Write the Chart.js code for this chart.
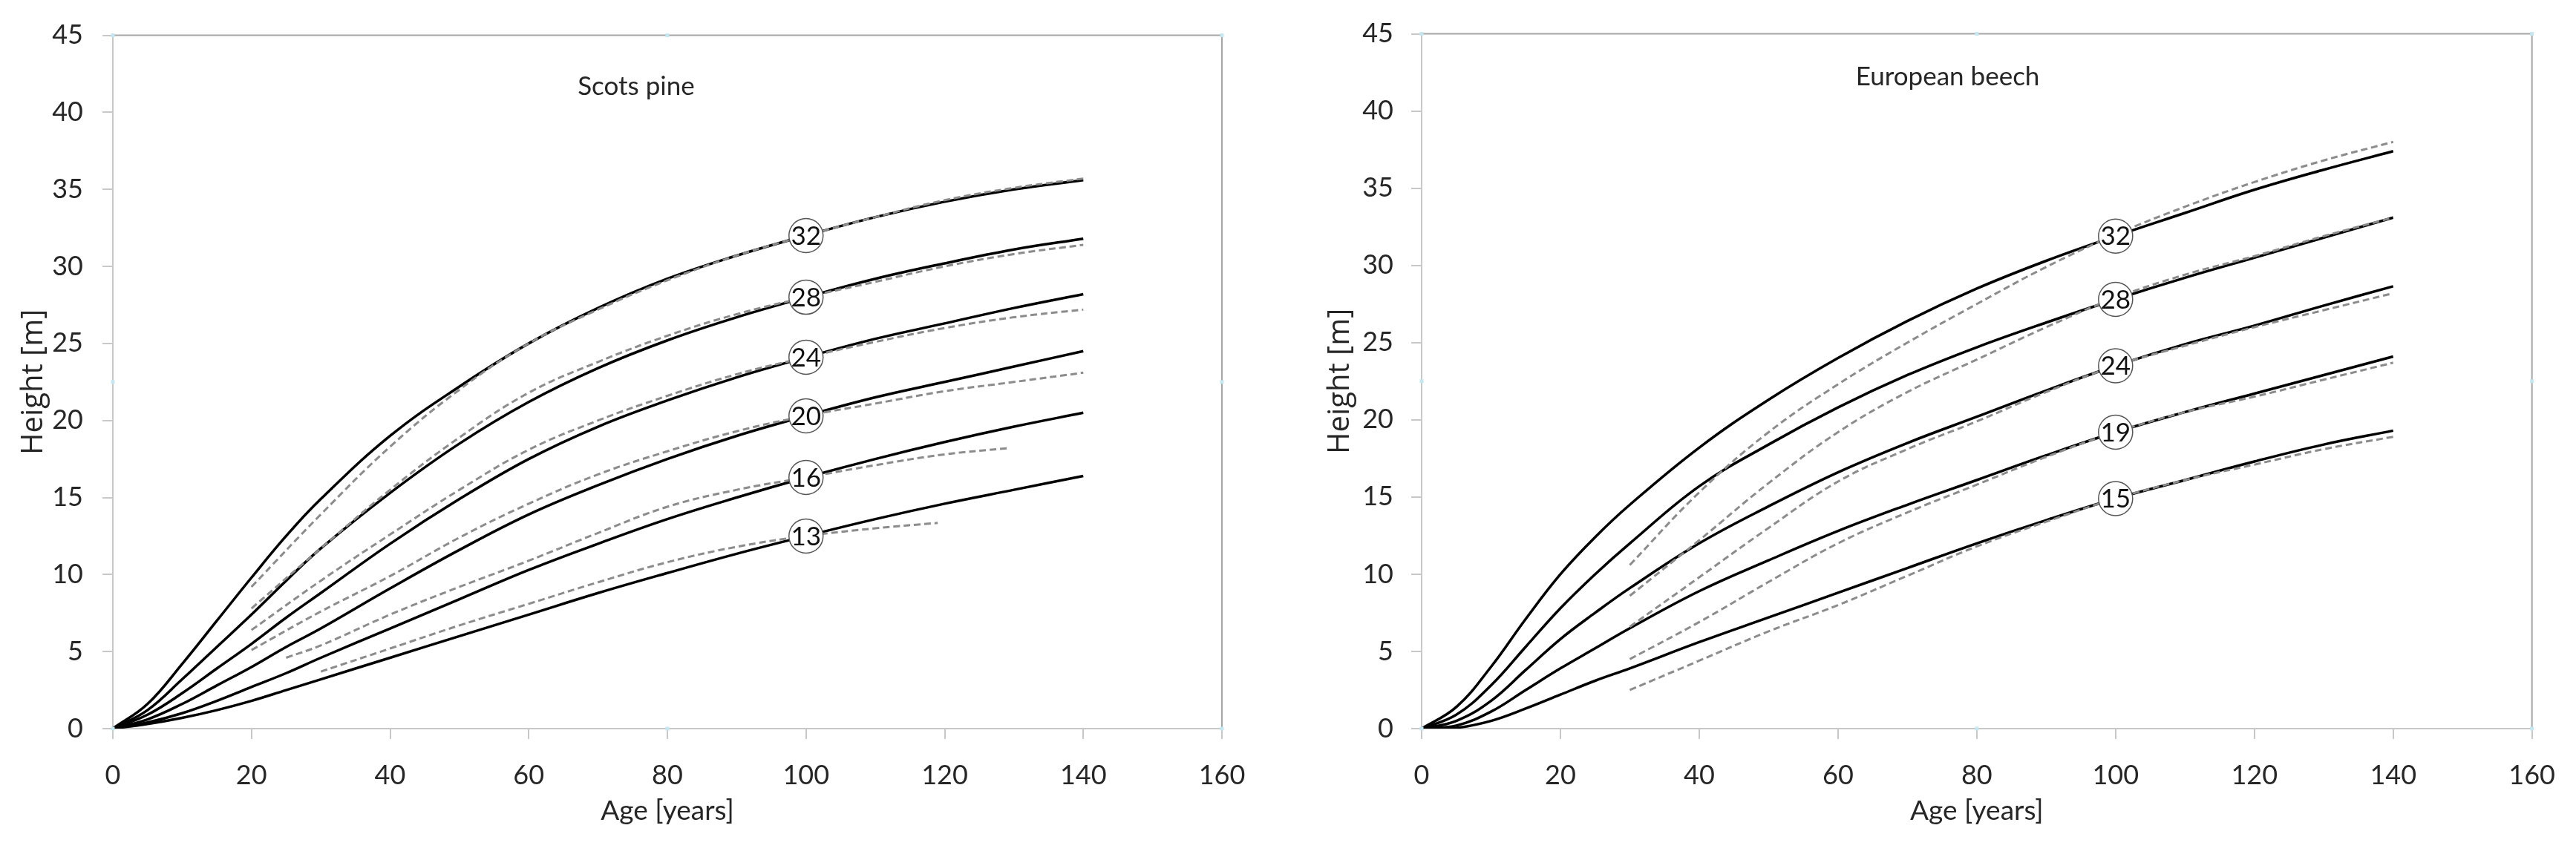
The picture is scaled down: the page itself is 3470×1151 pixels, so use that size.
<!DOCTYPE html>
<html>
<head>
<meta charset="utf-8">
<title>Height growth curves</title>
<script src="https://cdn.jsdelivr.net/npm/chart.js@4.4.1/dist/chart.umd.min.js"></script>
<style>
  html, body { margin: 0; padding: 0; background: #fff; }
  body { width: 3470px; height: 1151px; position: relative; overflow: hidden; }
  canvas { position: absolute; top: 0; }
  #pine { left: 0; }
  #beech { left: 1735px; }
</style>
</head>
<body>
<canvas id="pine" width="1735" height="1151"></canvas>
<canvas id="beech" width="1735" height="1151"></canvas>
<script>
// Ages of the model curves [years]
const AGES = [0, 5, 10, 15, 20, 25, 30, 40, 50, 60, 70, 80, 90, 100, 110, 120, 130, 140];
const X_TICKS = [0, 20, 40, 60, 80, 100, 120, 140, 160];
const Y_TICKS = [0, 5, 10, 15, 20, 25, 30, 35, 40, 45];

// Scots pine - model curves (solid), height [m] at AGES
const pine32 = [0, 1.6, 4.2, 7.0, 9.8, 12.5, 14.9, 19.0, 22.2, 25.0, 27.3, 29.2, 30.7, 32.0, 33.2, 34.2, 35.0, 35.6];
const pine28 = [0, 1.2, 3.2, 5.3, 7.4, 9.6, 11.7, 15.3, 18.5, 21.2, 23.4, 25.2, 26.7, 28.0, 29.2, 30.2, 31.1, 31.8];
const pine24 = [0, 0.9, 2.3, 3.9, 5.5, 7.2, 8.8, 12.0, 14.9, 17.5, 19.6, 21.3, 22.8, 24.1, 25.3, 26.3, 27.3, 28.2];
const pine20 = [0, 0.6, 1.6, 2.8, 4.0, 5.3, 6.5, 9.1, 11.6, 13.9, 15.8, 17.5, 19.0, 20.3, 21.5, 22.5, 23.5, 24.5];
const pine16 = [0, 0.4, 1.0, 1.8, 2.7, 3.6, 4.6, 6.5, 8.4, 10.3, 12.0, 13.6, 15.0, 16.3, 17.5, 18.6, 19.6, 20.5];
const pine13 = [0, 0.3, 0.7, 1.2, 1.8, 2.5, 3.2, 4.6, 6.0, 7.4, 8.8, 10.1, 11.35, 12.5, 13.6, 14.6, 15.5, 16.4];
const PINE_LABELS = ["32", "28", "24", "20", "16", "13"];

// Scots pine - comparison curves (dashed)
const pineDashAges = [20, 30, 40, 50, 60, 70, 80, 90, 100, 110, 120, 130, 140];
const pineDash32 = [9.2, 13.9, 18.3, 22.0, 25.0, 27.2, 29.1, 30.7, 32.0, 33.2, 34.3, 35.1, 35.7];
const pineDash28 = [7.8, 11.7, 15.5, 18.9, 21.8, 23.8, 25.5, 26.9, 28.0, 29.0, 30.0, 30.8, 31.4];
const pineDash24 = [6.4, 9.6, 12.6, 15.5, 18.1, 20.0, 21.6, 23.0, 24.1, 25.1, 26.0, 26.7, 27.2];
const pineDash20 = [5.1, 7.6, 9.9, 12.4, 14.6, 16.5, 18.0, 19.3, 20.3, 21.1, 21.9, 22.5, 23.1];
const pineDash16Ages = [25, 30, 40, 50, 60, 70, 80, 90, 100, 110, 120, 129];
const pineDash16 = [4.6, 5.4, 7.4, 9.2, 10.9, 12.7, 14.4, 15.5, 16.3, 17.1, 17.8, 18.2];
const pineDash13Ages = [30, 40, 50, 60, 70, 80, 90, 100, 110, 119];
const pineDash13 = [3.7, 5.2, 6.7, 8.1, 9.5, 10.8, 11.8, 12.5, 13.0, 13.35];

// European beech - model curves (solid), height [m] at AGES
const beech32 = [0, 1.4, 4.0, 7.1, 10.0, 12.4, 14.5, 18.2, 21.3, 24.0, 26.4, 28.5, 30.3, 31.9, 33.4, 34.9, 36.2, 37.4];
const beech28 = [0, 0.9, 2.8, 5.3, 7.8, 10.0, 12.0, 15.7, 18.4, 20.8, 22.9, 24.7, 26.3, 27.8, 29.2, 30.5, 31.8, 33.1];
const beech24 = [0, 0.5, 1.8, 3.8, 5.8, 7.5, 9.1, 12.0, 14.4, 16.6, 18.5, 20.2, 21.9, 23.5, 24.9, 26.1, 27.4, 28.65];
const beech19 = [0, 0.2, 1.1, 2.5, 3.9, 5.2, 6.5, 8.9, 10.9, 12.8, 14.5, 16.1, 17.7, 19.2, 20.5, 21.7, 22.9, 24.1];
const beech15 = [0, 0.05, 0.5, 1.3, 2.2, 3.1, 3.9, 5.6, 7.2, 8.8, 10.4, 12.0, 13.5, 14.9, 16.1, 17.3, 18.4, 19.3];
const BEECH_LABELS = ["32", "28", "24", "19", "15"];

// European beech - comparison curves (dashed)
const beechDashAges = [30, 40, 50, 60, 70, 80, 90, 100, 110, 120, 130, 140];
const beechDash32 = [10.6, 15.3, 19.2, 22.3, 25.0, 27.5, 29.9, 32.0, 33.8, 35.4, 36.8, 38.0];
const beechDash28 = [8.6, 12.2, 15.9, 19.2, 21.8, 23.9, 26.0, 27.9, 29.4, 30.6, 31.9, 33.1];
const beechDash24 = [6.6, 9.8, 13.0, 16.0, 18.1, 19.9, 21.8, 23.5, 24.8, 26.0, 27.1, 28.2];
const beechDash19 = [4.5, 6.9, 9.5, 12.0, 14.0, 15.8, 17.6, 19.2, 20.5, 21.5, 22.6, 23.7];
const beechDash15 = [2.5, 4.4, 6.3, 8.0, 9.9, 11.8, 13.4, 14.9, 16.1, 17.1, 18.1, 18.9];

const LABEL_AGE = 100;
const TICK_FONT = "Lato";
const TEXT = "#262626";
const AXIS = "#c8c8c8";

function curve(ages, values, dashed, label) {
  return {
    data: ages.map((a, i) => ({ x: a, y: values[i] })),
    borderColor: dashed ? "#8c8c8c" : "#000",
    borderWidth: dashed ? 3 : 3.5,
    borderDash: dashed ? [9, 5] : [],
    pointRadius: 0,
    tension: 0.4,
    order: dashed ? 0 : 1,
    siLabel: label || null,
  };
}

// circles with site index, panel title and plot frame
const annotations = {
  id: "annotations",
  afterDatasetsDraw(chart, args, opts) {
    const ctx = chart.ctx;
    const { left, right, top, bottom } = chart.chartArea;
    ctx.save();
    ctx.strokeStyle = "#a6a6a6";
    ctx.lineWidth = 2;
    ctx.beginPath();
    ctx.moveTo(left, top);
    ctx.lineTo(right, top);
    ctx.lineTo(right, bottom);
    ctx.stroke();

    ctx.fillStyle = "#c6e6f0";
    const midX = (left + right) / 2, midY = (top + bottom) / 2;
    [[left, top], [midX, top], [right, top], [right, midY], [right, bottom],
     [midX, bottom], [left, bottom], [left, midY]].forEach(([hx, hy]) => {
      ctx.fillRect(hx - 2.5, hy - 2.5, 5, 5);
    });

    chart.data.datasets.forEach((ds, di) => {
      if (!ds.siLabel) return;
      const idx = ds.data.findIndex((p) => p.x === LABEL_AGE);
      const pt = chart.getDatasetMeta(di).data[idx];
      ctx.beginPath();
      ctx.arc(pt.x, pt.y, 23, 0, Math.PI * 2);
      ctx.fillStyle = "#fff";
      ctx.fill();
      ctx.lineWidth = 1.5;
      ctx.strokeStyle = "#555";
      ctx.stroke();
      ctx.fillStyle = "#111";
      ctx.font = "35px " + TICK_FONT;
      ctx.textAlign = "center";
      ctx.textBaseline = "middle";
      ctx.fillText(ds.siLabel, pt.x, pt.y + 1);
    });

    const xs = chart.scales.x, ys = chart.scales.y;
    ctx.fillStyle = TEXT;
    ctx.font = "35px " + TICK_FONT;
    ctx.textAlign = "center";
    ctx.textBaseline = "middle";
    ctx.fillText(opts.title, xs.getPixelForValue(opts.titleAt[0]), ys.getPixelForValue(opts.titleAt[1]));
    ctx.restore();
  },
};

function makeChart(id, datasets, p) {
  return new Chart(document.getElementById(id), {
    type: "line",
    data: { datasets },
    plugins: [annotations],
    options: {
      responsive: false,
      animation: false,
      devicePixelRatio: 1,
      layout: { padding: { top: 42, right: p.right, left: 0, bottom: 0 } },
      plugins: {
        legend: { display: false },
        tooltip: { enabled: false },
        annotations: { title: p.title, titleAt: p.titleAt },
      },
      scales: {
        x: {
          type: "linear",
          min: 0,
          max: 160,
          afterBuildTicks: (s) => { s.ticks = X_TICKS.map((v) => ({ value: v })); },
          afterFit: (s) => { s.height = 169; },
          ticks: { color: TEXT, font: { family: TICK_FONT, size: 36 }, padding: 28, maxRotation: 0 },
          grid: { drawOnChartArea: false, tickLength: 14, color: AXIS, lineWidth: 2 },
          border: { color: AXIS, width: 2 },
          title: {
            display: true,
            text: "Age [years]",
            color: TEXT,
            font: { family: TICK_FONT, size: 37 },
            padding: { top: 0, bottom: 36 },
          },
        },
        y: {
          type: "linear",
          min: 0,
          max: 45,
          afterBuildTicks: (s) => { s.ticks = Y_TICKS.map((v) => ({ value: v })); },
          afterFit: (s) => { s.width = p.yWidth; },
          ticks: { color: TEXT, font: { family: TICK_FONT, size: 36 }, padding: p.yPad },
          grid: { drawOnChartArea: false, tickLength: 14, color: AXIS, lineWidth: 2 },
          border: { color: AXIS, width: 2 },
          title: {
            display: true,
            text: "Height [m]",
            color: TEXT,
            font: { family: "Open Sans", size: 40 },
            padding: { top: p.titlePad, bottom: 0 },
          },
        },
      },
    },
  });
}

const pineSets = [
  curve(AGES, pine32, false, PINE_LABELS[0]),
  curve(AGES, pine28, false, PINE_LABELS[1]),
  curve(AGES, pine24, false, PINE_LABELS[2]),
  curve(AGES, pine20, false, PINE_LABELS[3]),
  curve(AGES, pine16, false, PINE_LABELS[4]),
  curve(AGES, pine13, false, PINE_LABELS[5]),
  curve(pineDashAges, pineDash32, true),
  curve(pineDashAges, pineDash28, true),
  curve(pineDashAges, pineDash24, true),
  curve(pineDashAges, pineDash20, true),
  curve(pineDash16Ages, pineDash16, true),
  curve(pineDash13Ages, pineDash13, true),
];

const beechSets = [
  curve(AGES, beech32, false, BEECH_LABELS[0]),
  curve(AGES, beech28, false, BEECH_LABELS[1]),
  curve(AGES, beech24, false, BEECH_LABELS[2]),
  curve(AGES, beech19, false, BEECH_LABELS[3]),
  curve(AGES, beech15, false, BEECH_LABELS[4]),
  curve(beechDashAges, beechDash32, true),
  curve(beechDashAges, beechDash28, true),
  curve(beechDashAges, beechDash24, true),
  curve(beechDashAges, beechDash19, true),
  curve(beechDashAges, beechDash15, true),
];

makeChart("pine", pineSets, { right: 89, yWidth: 152, yPad: 26, titlePad: 22, title: "Scots pine", titleAt: [75.5, 41.65] });
makeChart("beech", beechSets, { right: 57, yWidth: 180, yPad: 24, titlePad: 47, title: "European beech", titleAt: [75.8, 42.2] });
</script>
</body>
</html>
